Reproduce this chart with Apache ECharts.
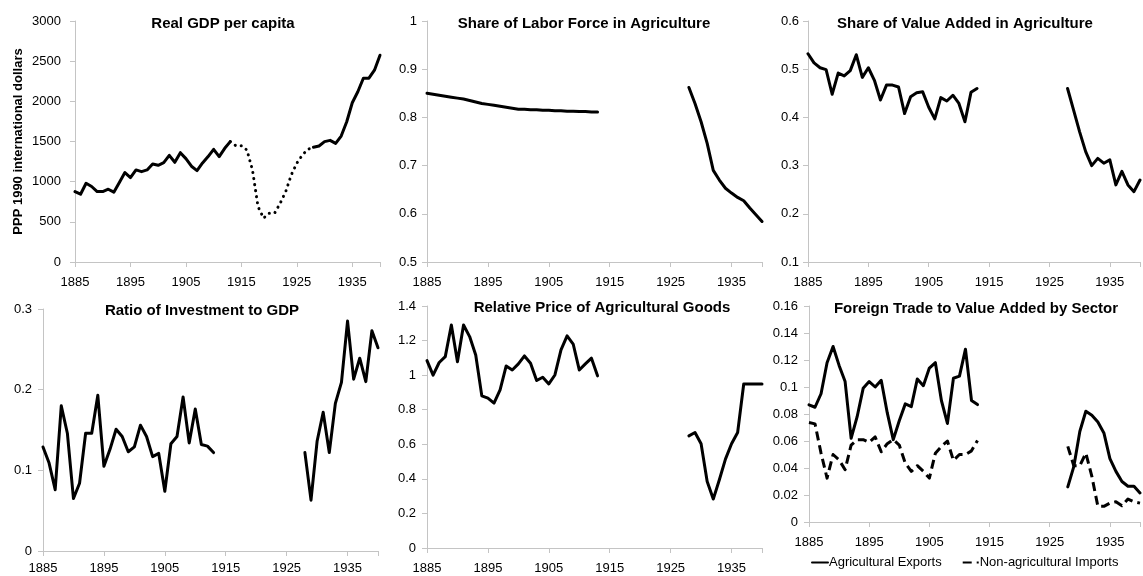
<!DOCTYPE html>
<html>
<head>
<meta charset="utf-8">
<script src="https://cdn.jsdelivr.net/npm/echarts@6/dist/echarts.min.js"></script>
<style>
  html, body { margin: 0; padding: 0; background: #fff; }
  #chart { width: 1143px; height: 576px; }
</style>
</head>
<body>
<div id="chart"></div>
<script>
// years of each segment
const yearsEarly = [1885, 1886, 1887, 1888, 1889, 1890, 1891, 1892, 1893, 1894, 1895, 1896, 1897, 1898, 1899,
  1900, 1901, 1902, 1903, 1904, 1905, 1906, 1907, 1908, 1909, 1910, 1911, 1912, 1913]
const yearsWar = [1913, 1914, 1915, 1916, 1917, 1918, 1919, 1920, 1921, 1922, 1923, 1924, 1925, 1926, 1927, 1928]
const yearsLate = [1928, 1929, 1930, 1931, 1932, 1933, 1934, 1935, 1936, 1937, 1938, 1939, 1940]

// Real GDP per capita (PPP 1990 international dollars)
const gdpEarly = [877, 844, 980, 940, 877, 877, 906, 869, 990, 1113, 1051, 1146, 1125, 1146, 1220,
  1204, 1237, 1328, 1241, 1361, 1287, 1192, 1138, 1233, 1312, 1403, 1312, 1415, 1498]
const gdpWar = [1498, 1448, 1448, 1394, 1146, 691, 546, 608, 608, 732, 877, 1084, 1229, 1332, 1403, 1428]
const gdpLate = [1428, 1444, 1498, 1514, 1477, 1568, 1746, 1982, 2119, 2288, 2288, 2388, 2574]

// share of labor force in agriculture
const laborEarly = [0.850, 0.848, 0.846, 0.844, 0.842, 0.840, 0.838, 0.835, 0.832, 0.829, 0.827, 0.825, 0.823, 0.821, 0.819,
  0.817, 0.817, 0.816, 0.816, 0.815, 0.815, 0.814, 0.814, 0.813, 0.813, 0.812, 0.812, 0.811, 0.811]
const laborLate = [0.862, 0.829, 0.791, 0.746, 0.690, 0.670, 0.653, 0.643, 0.634, 0.627, 0.612, 0.598, 0.584]

// share of value added in agriculture
const vaEarly = [0.532, 0.513, 0.503, 0.499, 0.448, 0.492, 0.486, 0.497, 0.530, 0.483, 0.503, 0.477, 0.436, 0.467, 0.467,
  0.463, 0.408, 0.443, 0.451, 0.453, 0.421, 0.397, 0.441, 0.434, 0.446, 0.429, 0.391, 0.452, 0.460]
const vaLate = [0.460, 0.415, 0.370, 0.329, 0.300, 0.315, 0.305, 0.312, 0.260, 0.288, 0.260, 0.246, 0.270]

// ratio of investment to GDP
const invEarly = [0.129, 0.109, 0.076, 0.180, 0.146, 0.065, 0.084, 0.146, 0.146, 0.193, 0.105, 0.126, 0.151, 0.142, 0.123,
  0.129, 0.156, 0.142, 0.117, 0.121, 0.074, 0.133, 0.142, 0.191, 0.134, 0.176, 0.132, 0.130, 0.122]
const invLate = [0.122, 0.063, 0.136, 0.172, 0.122, 0.183, 0.209, 0.285, 0.213, 0.239, 0.210, 0.273, 0.252]

// relative price of agricultural goods
const priceEarly = [1.084, 1.0, 1.073, 1.107, 1.290, 1.078, 1.290, 1.223, 1.117, 0.880, 0.867, 0.838, 0.915, 1.053, 1.030,
  1.065, 1.111, 1.069, 0.969, 0.988, 0.949, 1.001, 1.146, 1.227, 1.180, 1.030, 1.065, 1.098, 0.996]
const priceLate = [0.649, 0.668, 0.603, 0.385, 0.283, 0.395, 0.514, 0.603, 0.668, 0.949, 0.949, 0.949, 0.949]

// foreign trade to value added by sector
const exportsEarly = [0.0868, 0.085, 0.095, 0.118, 0.130, 0.116, 0.104, 0.062, 0.078, 0.099, 0.104, 0.100, 0.105, 0.081, 0.061,
  0.075, 0.0875, 0.0855, 0.106, 0.101, 0.114, 0.118, 0.090, 0.073, 0.1065, 0.108, 0.128, 0.090, 0.087]
const exportsLate = [0.026, 0.041, 0.067, 0.082, 0.079, 0.074, 0.066, 0.047, 0.0375, 0.030, 0.0265, 0.0265, 0.0215]
const importsEarly = [0.0737, 0.0727, 0.051, 0.0325, 0.050, 0.046, 0.0387, 0.057, 0.061, 0.061, 0.059, 0.063, 0.052, 0.058, 0.061,
  0.057, 0.0436, 0.0375, 0.0417, 0.0375, 0.0325, 0.051, 0.056, 0.060, 0.0456, 0.050, 0.050, 0.0527, 0.0604]
const importsLate = [0.056, 0.0417, 0.0417, 0.051, 0.0338, 0.0116, 0.0116, 0.014, 0.015, 0.012, 0.017, 0.015, 0.014]

const titles = ['Real GDP per capita', 'Share of Labor Force in Agriculture', 'Share of Value Added in Agriculture',
  'Ratio of Investment to GDP', 'Relative Price of Agricultural Goods', 'Foreign Trade to Value Added by Sector']
const legendNames = ['Agricultural Exports', 'Non-agricultural Imports']

const chart = echarts.init(document.getElementById('chart'))

// 年份和数值配对
function pairs(years, values) {
  return years.map((y, i) => [y, values[i]])
}

const FONT = '"Liberation Sans", Arial, sans-serif'
const AXIS_GRAY = '#c4c4c4'

// 每个小图的位置
const panels = [
  { grid: { left: 75, top: 21, width: 305, height: 241 }, y: { min: 0, max: 3000, interval: 500 }, margin: 14, xMargin: 14, title: [223, 16] },
  { grid: { left: 427, top: 21, width: 335, height: 241 }, y: { min: 0.5, max: 1, interval: 0.1 }, margin: 10, xMargin: 14, title: [584, 16] },
  { grid: { left: 808, top: 21, width: 334, height: 241 }, y: { min: 0.1, max: 0.6, interval: 0.1 }, margin: 9, xMargin: 14, title: [965, 16] },
  { grid: { left: 43, top: 309, width: 335, height: 242 }, y: { min: 0, max: 0.3, interval: 0.1 }, margin: 11, xMargin: 11, title: [202, 303] },
  { grid: { left: 427, top: 306, width: 335, height: 242 }, y: { min: 0, max: 1.4, interval: 0.2 }, margin: 11, xMargin: 14, title: [602, 300] },
  { grid: { left: 809, top: 306, width: 333, height: 216 }, y: { min: 0, max: 0.16, interval: 0.02 }, margin: 11, xMargin: 14, title: [976, 301] }
]

const xAxes = panels.map((p, i) => ({
  type: 'value',
  gridIndex: i,
  min: 1885,
  max: 1940,
  interval: 10,
  axisLine: { lineStyle: { color: AXIS_GRAY, width: 1 } },
  axisTick: { show: true, length: 5, lineStyle: { color: AXIS_GRAY } },
  splitLine: { show: false },
  axisLabel: {
    color: '#000',
    fontSize: 13,
    fontFamily: FONT,
    margin: p.xMargin,
    formatter: (v) => ((v - 1885) % 10 === 0 ? String(v) : '')
  }
}))

const yAxes = panels.map((p, i) => ({
  type: 'value',
  gridIndex: i,
  min: p.y.min,
  max: p.y.max,
  interval: p.y.interval,
  axisLine: { show: true, lineStyle: { color: AXIS_GRAY, width: 1 } },
  axisTick: { show: true, length: 5, lineStyle: { color: AXIS_GRAY } },
  splitLine: { show: false },
  axisLabel: {
    color: '#000',
    fontSize: 13,
    fontFamily: FONT,
    margin: p.margin,
    formatter: (v) => String(+v.toFixed(4))
  }
}))
// 第一个图的纵轴名称
Object.assign(yAxes[0], {
  name: 'PPP 1990 international dollars',
  nameLocation: 'middle',
  nameGap: 50,
  nameTextStyle: { color: '#000', fontSize: 13, fontWeight: 'bold', fontFamily: FONT }
})

function lineSeries(idx, data, extra) {
  return Object.assign({
    type: 'line',
    xAxisIndex: idx,
    yAxisIndex: idx,
    data: data,
    symbol: 'none',
    silent: true,
    lineStyle: { color: '#000', width: 3, cap: 'round', join: 'round' },
    itemStyle: { color: '#000' }
  }, extra || {})
}

const dashed = { color: '#000', width: 3, type: [9, 5], cap: 'butt', join: 'round' }

const series = [
  lineSeries(0, pairs(yearsEarly, gdpEarly)),
  lineSeries(0, pairs(yearsWar, gdpWar), { lineStyle: { color: '#000', width: 3, type: [0.1, 6], cap: 'round' } }),
  lineSeries(0, pairs(yearsLate, gdpLate)),
  lineSeries(1, pairs(yearsEarly, laborEarly)),
  lineSeries(1, pairs(yearsLate, laborLate)),
  lineSeries(2, pairs(yearsEarly, vaEarly)),
  lineSeries(2, pairs(yearsLate, vaLate)),
  lineSeries(3, pairs(yearsEarly, invEarly)),
  lineSeries(3, pairs(yearsLate, invLate)),
  lineSeries(4, pairs(yearsEarly, priceEarly)),
  lineSeries(4, pairs(yearsLate, priceLate)),
  lineSeries(5, pairs(yearsEarly, importsEarly), { name: legendNames[1], lineStyle: dashed }),
  lineSeries(5, pairs(yearsLate, importsLate), { name: legendNames[1], lineStyle: dashed }),
  lineSeries(5, pairs(yearsEarly, exportsEarly), { name: legendNames[0] }),
  lineSeries(5, pairs(yearsLate, exportsLate), { name: legendNames[0] })
]

const option = {
  animation: false,
  backgroundColor: '#fff',
  textStyle: { fontFamily: FONT },
  title: panels.map((p, i) => ({
    text: titles[i],
    left: p.title[0],
    top: p.title[1],
    textAlign: 'center',
    padding: 0,
    textStyle: { color: '#000', fontSize: 15, fontWeight: 'bold', fontFamily: FONT }
  })),
  legend: {
    data: legendNames,
    left: 811,
    top: 556,
    itemWidth: 16,
    itemHeight: 3,
    itemGap: 20,
    padding: 0,
    selectedMode: false,
    itemStyle: { opacity: 0 },
    textStyle: { color: '#000', fontSize: 13, fontFamily: FONT, padding: [0, 0, 0, -4] }
  },
  grid: panels.map((p) => p.grid),
  xAxis: xAxes,
  yAxis: yAxes,
  series: series
}

chart.setOption(option)
</script>
</body>
</html>
